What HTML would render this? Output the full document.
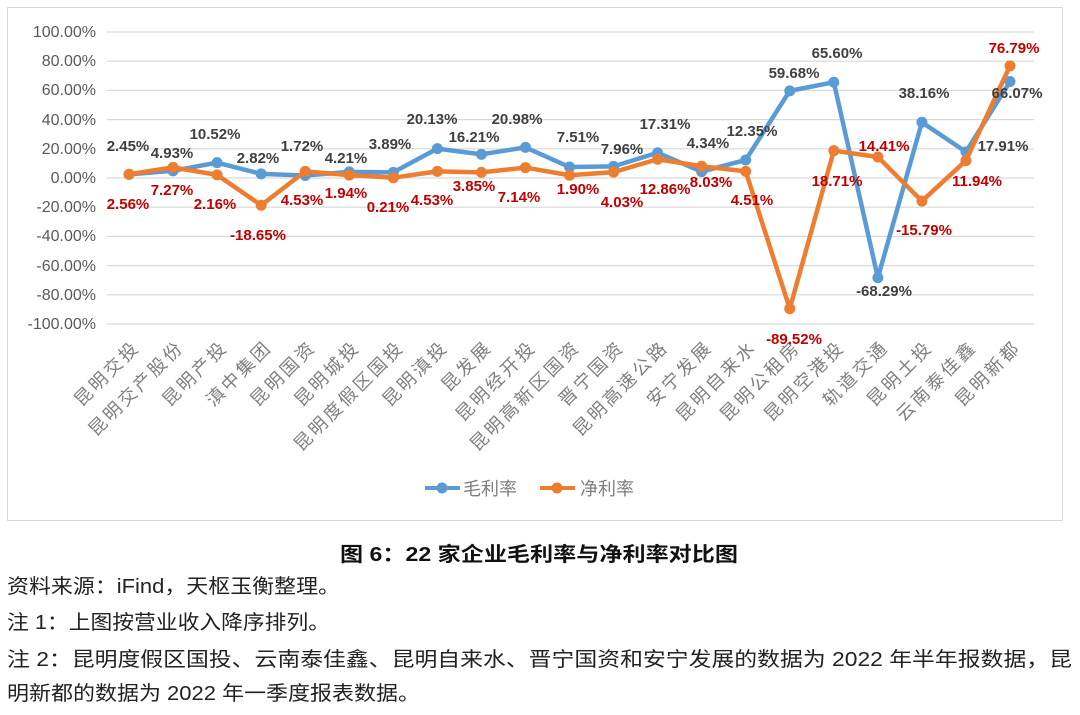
<!DOCTYPE html>
<html><head><meta charset="utf-8"><style>
body{margin:0;background:#fff;width:1080px;height:710px;overflow:hidden;font-family:"Liberation Sans","Noto Sans CJK SC",sans-serif}
</style></head><body>
<svg width="1080" height="710" xmlns="http://www.w3.org/2000/svg" font-family="Liberation Sans, Noto Sans CJK SC, sans-serif">
<rect x="7.5" y="7.5" width="1055" height="513" fill="#fff" stroke="#d9d9d9"/>
<g stroke="#d9d9d9" stroke-width="1.2">
<line x1="107" x2="1034" y1="32" y2="32"/><line x1="107" x2="1034" y1="61.2" y2="61.2"/><line x1="107" x2="1034" y1="90.4" y2="90.4"/><line x1="107" x2="1034" y1="119.6" y2="119.6"/><line x1="107" x2="1034" y1="148.8" y2="148.8"/><line x1="107" x2="1034" y1="178" y2="178"/><line x1="107" x2="1034" y1="207.2" y2="207.2"/><line x1="107" x2="1034" y1="236.4" y2="236.4"/><line x1="107" x2="1034" y1="265.6" y2="265.6"/><line x1="107" x2="1034" y1="294.8" y2="294.8"/><line x1="107" x2="1034" y1="324" y2="324"/>
</g>
<g font-size="16" fill="#595959" text-anchor="end">
<text x="96" y="37">100.00%</text><text x="96" y="66">80.00%</text><text x="96" y="95">60.00%</text><text x="96" y="125">40.00%</text><text x="96" y="154">20.00%</text><text x="96" y="183">0.00%</text><text x="96" y="212">-20.00%</text><text x="96" y="241">-40.00%</text><text x="96" y="271">-60.00%</text><text x="96" y="300">-80.00%</text><text x="96" y="329">-100.00%</text>
</g>
<g id="lines"></g>
<g font-size="18" fill="#7f7f7f" text-anchor="end" letter-spacing="3" id="cats"></g>
<g font-size="15" font-weight="bold" fill="#404040" text-anchor="middle" id="gl"></g>
<g font-size="15" font-weight="bold" fill="#c00000" text-anchor="middle" id="nl"></g>
<line x1="425" x2="460" y1="488" y2="488" stroke="#5b9bd5" stroke-width="4"/><circle cx="442" cy="488" r="5.5" fill="#5b9bd5"/>
<text x="463" y="495" font-size="18" fill="#7f7f7f">毛利率</text>
<line x1="540" x2="575" y1="488" y2="488" stroke="#ed7d31" stroke-width="4"/><circle cx="557" cy="488" r="5.5" fill="#ed7d31"/>
<text x="580" y="495" font-size="18" fill="#7f7f7f">净利率</text>
<text x="340" y="561" font-size="20" font-weight="bold" fill="#111" textLength="398" lengthAdjust="spacingAndGlyphs">图 6：22 家企业毛利率与净利率对比图</text>
<g font-size="20" fill="#222">
<text x="7" y="593" textLength="333" lengthAdjust="spacingAndGlyphs">资料来源：iFind，天枢玉衡整理。</text>
<text x="7" y="629" textLength="323" lengthAdjust="spacingAndGlyphs">注 1：上图按营业收入降序排列。</text>
<text x="7" y="666" textLength="1065" lengthAdjust="spacingAndGlyphs">注 2：昆明度假区国投、云南泰佳鑫、昆明自来水、晋宁国资和安宁发展的数据为 2022 年半年报数据，昆</text>
<text x="7" y="700" textLength="413" lengthAdjust="spacingAndGlyphs">明新都的数据为 2022 年一季度报表数据。</text>
</g>
</svg>
<script>
var g=[2.45,4.93,10.52,2.82,1.72,4.21,3.89,20.13,16.21,20.98,7.51,7.96,17.31,4.34,12.35,59.68,65.60,-68.29,38.16,17.91,66.07];
var n=[2.56,7.27,2.16,-18.65,4.53,1.94,0.21,4.53,3.85,7.14,1.90,4.03,12.86,8.03,4.51,-89.52,18.71,14.41,-15.79,11.94,76.79];
var c=["昆明交投","昆明交产股份","昆明产投","滇中集团","昆明国资","昆明城投","昆明度假区国投","昆明滇投","昆发展","昆明经开投","昆明高新区国资","晋宁国资","昆明高速公路","安宁发展","昆明自来水","昆明公租房","昆明空港投","轨道交通","昆明土投","云南泰佳鑫","昆明新都"];
var gp=[[128,151],[172,158],[215,139],[258,163],[302,151],[346,163],[390,149],[432,124],[474,142],[517,124],[578,142],[622,154],[665,129],[708,148],[752,136],[794,78],[837,58],[884,296],[924,98],[1003,151],[1017,98]];
var np=[[128,209],[172,195],[215,209],[258,240],[302,205],[346,198],[388,212],[432,205],[474,191],[519,202],[578,194],[622,207],[665,194],[711,187],[752,205],[794,344],[837,186],[884,151],[924,235],[977,186],[1014,53]];
function X(i){return 129+i*44.05}function Y(v){return 178-v*1.46}
var s="http://www.w3.org/2000/svg";
function el(t,a,p){var e=document.createElementNS(s,t);for(var k in a)e.setAttribute(k,a[k]);p.appendChild(e);return e}
var L=document.getElementById("lines");
[[g,"#5b9bd5"],[n,"#ed7d31"]].forEach(function(d){
var pts=d[0].map(function(v,i){return X(i)+","+Y(v)}).join(" ");
el("polyline",{points:pts,fill:"none",stroke:d[1],"stroke-width":4.5,"stroke-linejoin":"round"},L);
d[0].forEach(function(v,i){el("circle",{cx:X(i),cy:Y(v),r:5.5,fill:d[1]},L)});
});
var C=document.getElementById("cats");
c.forEach(function(t,i){var x=X(i)+12,y=348;var e=el("text",{x:x,y:y,transform:"rotate(-45 "+x+" "+y+")"},C);e.textContent=t});
var G=document.getElementById("gl"),N=document.getElementById("nl");
g.forEach(function(v,i){var e=el("text",{x:gp[i][0],y:gp[i][1]},G);e.textContent=v.toFixed(2)+"%"});
n.forEach(function(v,i){var e=el("text",{x:np[i][0],y:np[i][1]},N);e.textContent=v.toFixed(2)+"%"});
</script>
</body></html>
